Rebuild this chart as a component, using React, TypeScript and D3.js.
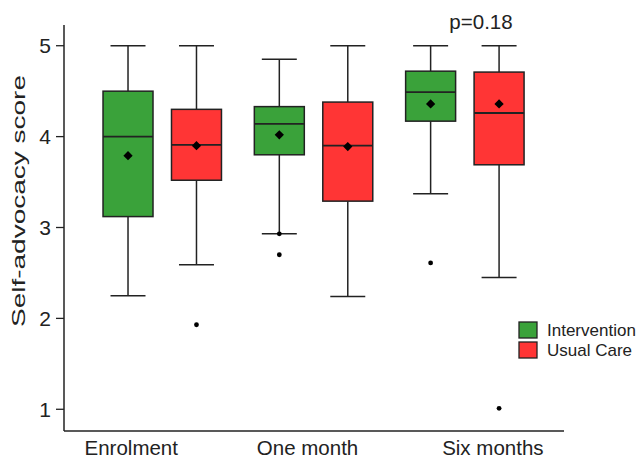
import React from "react";
import * as d3 from "d3";

const groups = ["Enrolment", "One month", "Six months"];
const series = ["Intervention", "Usual Care"];
const colors = ["#3aa23a", "#ff3535"];

// [whiskerLow, q1, median, q3, whiskerHigh, mean]
const interventionStats = [
  [2.25, 3.12, 4.0, 4.5, 5.0, 3.79],
  [2.93, 3.8, 4.14, 4.33, 4.85, 4.02],
  [3.37, 4.17, 4.49, 4.72, 5.0, 4.36],
];
const usualCareStats = [
  [2.59, 3.52, 3.91, 4.3, 5.0, 3.9],
  [2.24, 3.29, 3.9, 4.38, 5.0, 3.89],
  [2.45, 3.69, 4.26, 4.71, 5.0, 4.36],
];
const interventionOutliers = [[], [2.93, 2.7], [2.61]];
const usualCareOutliers = [[1.93], [], [1.01]];
const yTicks = [1, 2, 3, 4, 5];
const pLabel = "p=0.18";
const yLabel = "Self-advocacy score";

const W = 638;
const H = 460;
const axisX = 64;
const axisTop = 25;
const axisBottom = 431;
const axisRight = 564;
const labelOffsets = [-31, -6, 28];

export default function App() {
  const y = d3.scaleLinear().domain([0.761, 5.228]).range([axisBottom, axisTop]);
  const xg = d3.scaleBand<string>().domain(groups).range([86.6, 540.5]).padding(0);
  const xs = d3
    .scaleBand<string>()
    .domain(series)
    .range([0, xg.bandwidth()])
    .paddingInner(0.27)
    .paddingOuter(0.24);
  const bw = xs.bandwidth();
  const capW = bw * 0.7;
  const stroke = "#222";
  const font = "Liberation Sans, Arial, sans-serif";
  const statsBySeries = [interventionStats, usualCareStats];
  const outBySeries = [interventionOutliers, usualCareOutliers];
  const diamond = d3.symbol().type(d3.symbolDiamond2).size(55)();

  return (
    <svg
      width={W}
      height={H}
      style={{ position: "fixed", left: 0, top: 0, background: "#fff" }}
      fontFamily={font}
    >
      <rect width={W} height={H} fill="#fff" />
      {/* axes */}
      <line x1={axisX} x2={axisX} y1={axisTop} y2={axisBottom} stroke={stroke} strokeWidth={1.5} />
      <line x1={axisX} x2={axisRight} y1={axisBottom} y2={axisBottom} stroke={stroke} strokeWidth={1.5} />
      {yTicks.map((t) => (
        <g key={t}>
          <line x1={axisX - 8} x2={axisX} y1={y(t)} y2={y(t)} stroke={stroke} strokeWidth={1.3} />
          <text x={axisX - 13} y={y(t)} dy="0.36em" textAnchor="end" fontSize={21} fill="#222">
            {t}
          </text>
        </g>
      ))}
      <text
        transform={`translate(25,${(75 + 327) / 2}) rotate(-90)`}
        textAnchor="middle"
        fontSize={18}
        fill="#222"
        textLength={252}
        lengthAdjust="spacingAndGlyphs"
      >
        {yLabel}
      </text>
      {groups.map((g, gi) => (
        <text
          key={g}
          x={(xg(g) as number) + xg.bandwidth() / 2 + labelOffsets[gi]}
          y={455}
          textAnchor="middle"
          fontSize={20.5}
          fill="#222"
        >
          {g}
        </text>
      ))}
      {/* boxes */}
      {groups.map((g, gi) =>
        series.map((s, si) => {
          const [lo, q1, med, q3, hi, mean] = statsBySeries[si][gi];
          const cx = (xg(g) as number) + (xs(s) as number) + bw / 2;
          return (
            <g key={g + s}>
              <line x1={cx} x2={cx} y1={y(hi)} y2={y(q3)} stroke={stroke} strokeWidth={1.5} />
              <line x1={cx} x2={cx} y1={y(q1)} y2={y(lo)} stroke={stroke} strokeWidth={1.5} />
              <line x1={cx - capW / 2} x2={cx + capW / 2} y1={y(hi)} y2={y(hi)} stroke={stroke} strokeWidth={1.5} />
              <line x1={cx - capW / 2} x2={cx + capW / 2} y1={y(lo)} y2={y(lo)} stroke={stroke} strokeWidth={1.5} />
              <rect
                x={cx - bw / 2}
                y={y(q3)}
                width={bw}
                height={y(q1) - y(q3)}
                fill={colors[si]}
                stroke={stroke}
                strokeWidth={1.5}
              />
              <line x1={cx - bw / 2} x2={cx + bw / 2} y1={y(med)} y2={y(med)} stroke={stroke} strokeWidth={1.8} />
              <path d={diamond as string} transform={`translate(${cx},${y(mean)})`} fill="#000" />
              {outBySeries[si][gi].map((o, oi) => (
                <circle key={oi} cx={cx} cy={y(o)} r={2.4} fill="#000" />
              ))}
            </g>
          );
        })
      )}
      <text x={481} y={29} textAnchor="middle" fontSize={20.5} fill="#222">
        {pLabel}
      </text>
      {/* legend */}
      {series.map((s, si) => (
        <g key={s} transform={`translate(519,${322 + si * 20})`}>
          <rect x={0} y={0} width={18} height={16} fill={colors[si]} stroke={stroke} strokeWidth={1.3} />
          <text x={28} y={8} dy="0.36em" fontSize={17} fill="#222">
            {s}
          </text>
        </g>
      ))}
    </svg>
  );
}
